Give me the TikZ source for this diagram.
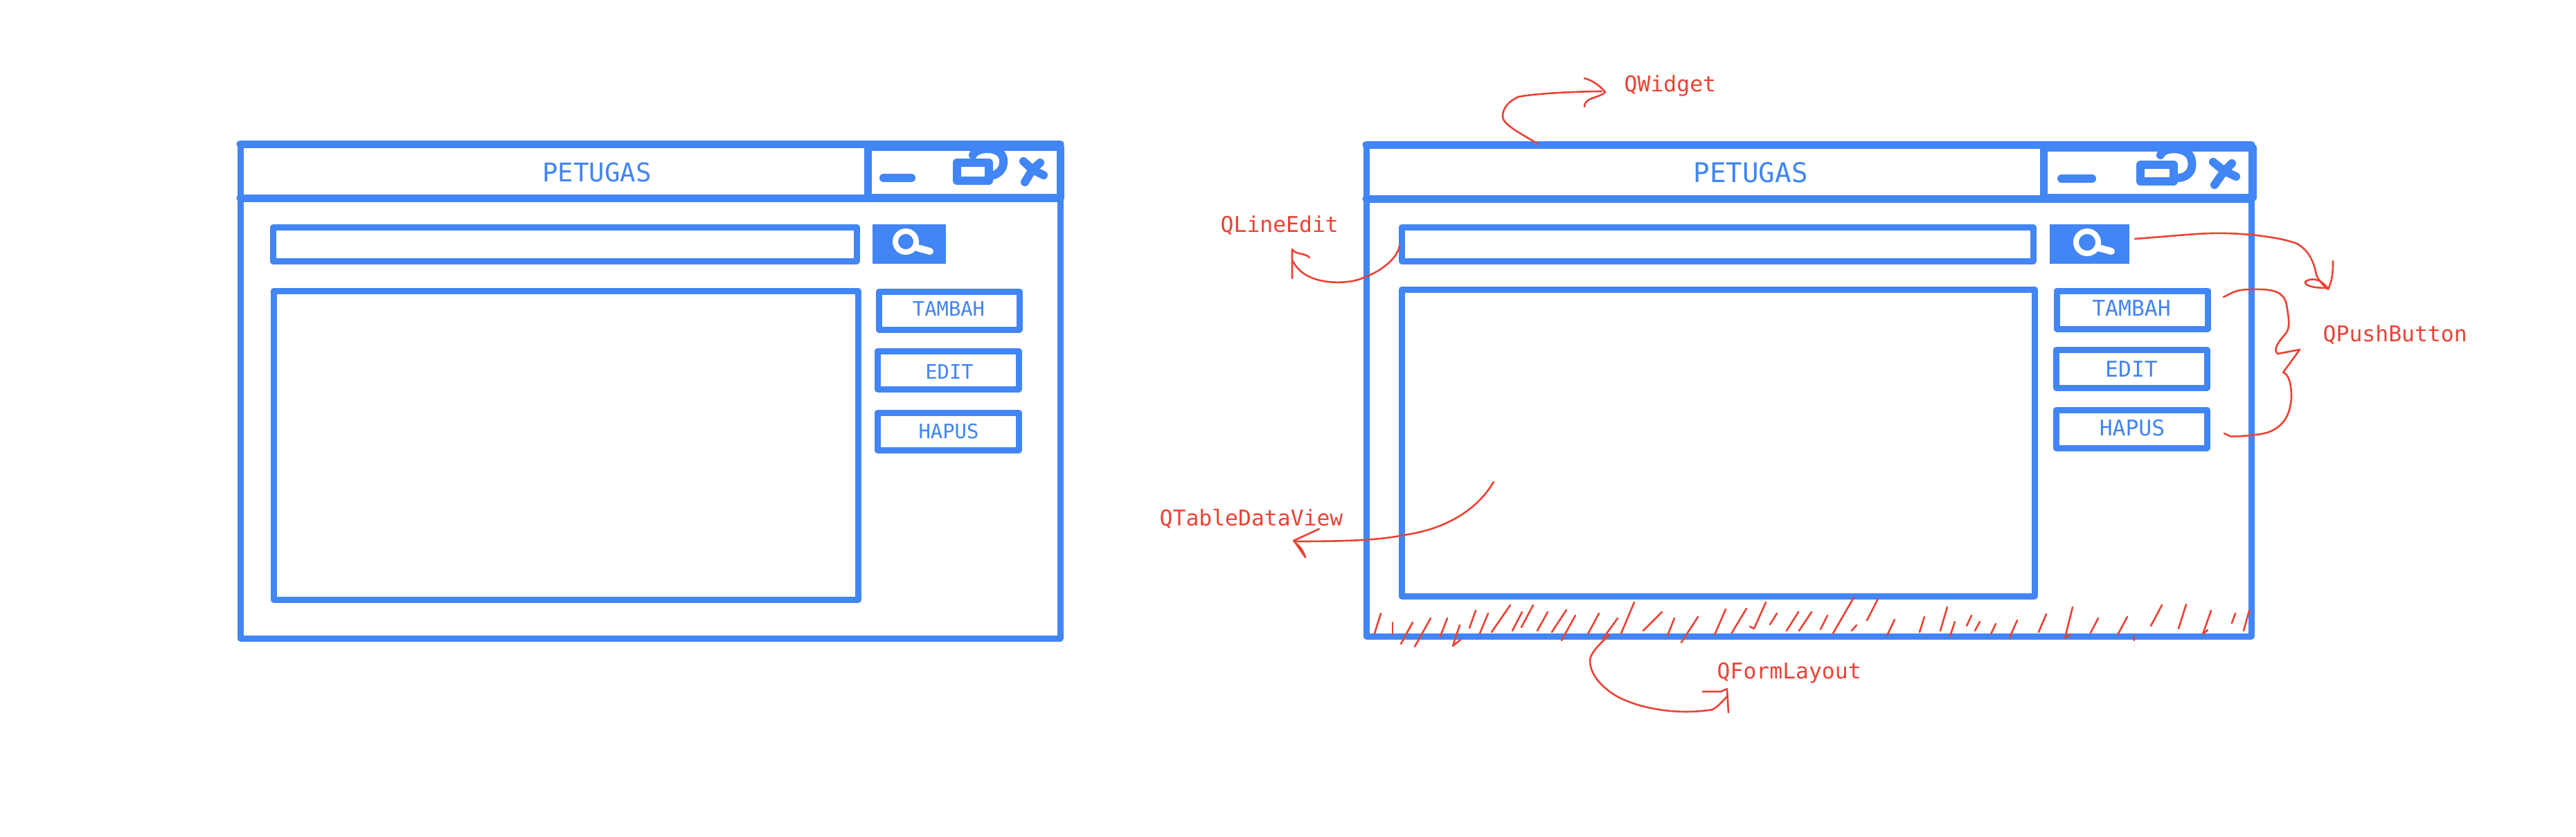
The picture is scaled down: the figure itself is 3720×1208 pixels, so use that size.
\documentclass[tikz,border=0pt]{standalone}
\usepackage{fontspec}
\usepackage{tikz}
\usetikzlibrary{positioning}
\newfontfamily\sketchmono{DejaVu Sans Mono}
\definecolor{sketchblue}{HTML}{4285F4}
\definecolor{sketchred}{HTML}{EA4335}
\tikzset{
  frame/.style={draw=sketchblue, line width=0.09cm, line join=round},
  bar/.style={draw=sketchblue, line width=0.11cm, line cap=round, line join=round},
  glyph/.style={draw=sketchblue, line width=0.12cm, line cap=round, line join=round},
  lens/.style={draw=white, line width=0.08cm, line cap=round},
  pen/.style={draw=sketchred, line width=0.026cm, line cap=round, line join=round},
  title/.style={text=sketchblue, anchor=base, inner sep=0pt, font=\sketchmono\fontsize{11.15}{12}\selectfont},
  titlesmall/.style={title, font=\sketchmono\fontsize{10.6}{12}\selectfont},
  btntext/.style={text=sketchblue, anchor=base, inner sep=0pt, font=\sketchmono\fontsize{8.93}{10}\selectfont},
  btnsmall/.style={btntext, font=\sketchmono\fontsize{8.2}{10}\selectfont},
  note/.style={text=sketchred, anchor=base west, inner sep=0pt, font=\sketchmono\fontsize{8.93}{10}\selectfont}
}
\begin{document}
\begin{tikzpicture}[x=0.01cm,y=-0.01cm]
\useasboundingbox (0,0) rectangle (3720,1208);
\fill[white] (0,0) rectangle (3720,1208);

% Left window
\draw[frame] (347,208) rectangle (1531,922);
\draw[bar] (347,208) -- (1531,208);
\draw[bar] (347,286) -- (1531,286);
\draw[bar, line width=0.08cm] (1253,212) -- (1253,286);
\draw[bar] (1253,212) rectangle (1531,285);
\node[titlesmall] (titleL) at (862,262) {PETUGAS};
% window controls
\draw[glyph] (1276,257) -- (1316,257);
\draw[glyph] (1405,224) .. controls (1410,212) and (1446,210) .. (1449,230)
  .. controls (1451,245) and (1440,254) .. (1428,254);
\draw[glyph, fill=white] (1382,235) rectangle (1428,261);
\draw[glyph] (1478,233) -- (1491,245) -- (1507,253);
\draw[glyph] (1502,235) -- (1491,245) -- (1480,263);
% search row
\draw[frame] (394,328) rectangle (1237,377);
\fill[sketchblue] (1260,324) rectangle (1366,381);
\draw[lens] (1308,349) circle (0.15cm);
\draw[lens, line width=0.10cm] (1325,358) -- (1343,363);
% table and buttons
\draw[frame] (395,420) rectangle (1239,866);
\draw[frame] (1269,421) rectangle (1472,476);
\draw[frame] (1267,507) rectangle (1471,562);
\draw[frame] (1267,596) rectangle (1471,650);
\node[btnsmall] (tambahL) at (1370,456) {TAMBAH};
\node[btnsmall] (editL) at (1371,547) {EDIT};
\node[btnsmall] (hapusL) at (1370,633) {HAPUS};

% Right window
\draw[frame] (1973,209) rectangle (3251,919);
\draw[bar] (1973,209) -- (3251,209);
\draw[bar] (1973,287) -- (3251,287);
\draw[bar, line width=0.08cm] (2951,212) -- (2951,287);
\draw[bar] (2951,213) rectangle (3253,285);
\node[title] (titleR) at (2528,263) {PETUGAS};
% window controls
\draw[glyph] (2977,258) -- (3021,258);
\draw[glyph] (3120,224) .. controls (3123,212) and (3162,210) .. (3165,232)
  .. controls (3168,248) and (3158,256) .. (3146,257);
\draw[glyph, fill=white] (3091,238) rectangle (3139,262);
\draw[glyph] (3196,234) -- (3212,247) -- (3229,255);
\draw[glyph] (3223,236) -- (3212,247) -- (3198,267);
% search row
\draw[frame] (2024,328) rectangle (2936,377);
\fill[sketchblue] (2960,324) rectangle (3075,381);
\draw[lens] (3014,350) circle (0.16cm);
\draw[lens, line width=0.10cm] (3031,358) -- (3049,363);
% table and buttons
\draw[frame] (2024,418) rectangle (2938,861);
\draw[frame] (2970,420) rectangle (3188,475);
\draw[frame] (2969,505) rectangle (3187,560);
\draw[frame] (2969,592) rectangle (3187,647);
\node[btntext] (tambahR) at (3078,456) {TAMBAH};
\node[btntext] (editR) at (3078,544) {EDIT};
\node[btntext] (hapusR) at (3079,629) {HAPUS};

% Red notes
\node[note] (qwidget) at (2345,132) {QWidget};
\node[note] (qlineedit) at (1762,335) {QLineEdit};
\node[note] (qpushbutton) at (3354,493) {QPushButton};
\node[note] (qtableview) at (1674,759) {QTableDataView};
\node[note] (qformlayout) at (2479,980) {QFormLayout};

% QWidget arrow
\draw[pen] (2221,208) .. controls (2195,192) and (2170,180) .. (2170,168)
  .. controls (2170,155) and (2180,146) .. (2192,140)
  .. controls (2215,135) and (2280,132) .. (2313,132);
\draw[pen] (2288,113) .. controls (2300,116) and (2312,125) .. (2318,133)
  .. controls (2310,142) and (2288,140) .. (2288,154);

% QLineEdit arrow
\draw[pen] (2021,355) .. controls (2018,375) and (1990,394) .. (1969,401)
  .. controls (1950,411) and (1885,415) .. (1867,377);
\draw[pen] (1866,402) -- (1866,360) .. controls (1870,368) and (1885,365) .. (1891,372);

% search button arrow
\draw[pen] (3083,345) .. controls (3150,340) and (3180,336) .. (3214,337)
  .. controls (3260,338) and (3300,345) .. (3317,352)
  .. controls (3335,362) and (3342,380) .. (3345,397)
  .. controls (3348,405) and (3355,412) .. (3362,418);
\draw[pen] (3369,377) .. controls (3369,395) and (3368,405) .. (3362,418);
\draw[pen] (3362,417) .. controls (3350,400) and (3335,402) .. (3329,407)
  .. controls (3328,414) and (3345,416) .. (3362,416);

% QPushButton brace
\draw[pen] (3211,429) .. controls (3225,422) and (3230,418) .. (3252,418)
  .. controls (3285,417) and (3298,422) .. (3302,440)
  .. controls (3306,465) and (3308,475) .. (3298,485)
  .. controls (3288,497) and (3283,505) .. (3289,511)
  -- (3321,505) -- (3297,538)
  .. controls (3305,540) and (3309,555) .. (3309,573)
  .. controls (3308,595) and (3300,625) .. (3256,628)
  .. controls (3240,630) and (3225,631) .. (3220,630) -- (3212,626);

% QTableDataView arrow
\draw[pen] (2157,696) .. controls (2125,750) and (2065,768) .. (2026,773)
  .. controls (1990,781) and (1930,782) .. (1870,782);
\draw[pen] (1905,764) -- (1868,781) .. controls (1874,788) and (1880,790) .. (1885,805) -- (1870,783);

% QFormLayout arrow
\draw[pen] (2324,917) .. controls (2305,935) and (2296,945) .. (2296,955)
  .. controls (2297,975) and (2312,990) .. (2326,1000)
  .. controls (2350,1018) and (2410,1035) .. (2473,1025)
  .. controls (2482,1020) and (2490,1010) .. (2494,1006);
\draw[pen] (2496,1029) -- (2494,995) -- (2485,999) -- (2459,999);

% Hatching of the form layout
\foreach \xa/\ya/\xb/\yb in {
  1994/886/1985/915, 2011/899/2011/916, 2040/899/2023/930, 2066/893/2043/934,
  2090/893/2080/919, 2108/903/2098/933, 2131/882/2122/907, 2149/886/2137/915,
  2181/874/2154/913, 2198/884/2184/911, 2214/874/2197/906, 2235/884/2220/911,
  2262/881/2241/913, 2275/889/2255/925, 2309/886/2293/916, 2336/893/2315/922,
  2360/870/2341/915, 2400/884/2373/911, 2418/893/2408/918, 2452/891/2428/928,
  2492/880/2476/917, 2522/879/2501/914, 2550/870/2533/908, 2566/886/2556/902,
  2597/884/2580/911, 2616/884/2598/911, 2639/889/2629/909, 2677/863/2647/915,
  2712/865/2696/896, 2681/903/2674/911, 2736/895/2725/918, 2779/891/2772/913,
  2812/877/2802/911, 2823/898/2816/919, 2847/889/2840/904, 2859/898/2852/911,
  2882/901/2875/916, 2913/896/2902/921, 2955/887/2944/913, 2993/877/2982/921,
  3030/893/3019/914, 3072/891/3058/917, 3081/919/3082/925, 3122/874/3106/904,
  3157/873/3146/908, 3193/882/3181/916, 3228/886/3223/900, 3248/882/3240/911}{
  \draw[pen] (\xa,\ya) -- (\xb,\yb);
}
\draw[pen] (2098,933) -- (2109,924);
\draw[pen] (2533,908) -- (2527,905);
\draw[pen] (2982,921) -- (2990,917);
\draw[pen] (3181,916) -- (3188,910);
\end{tikzpicture}
\end{document}
